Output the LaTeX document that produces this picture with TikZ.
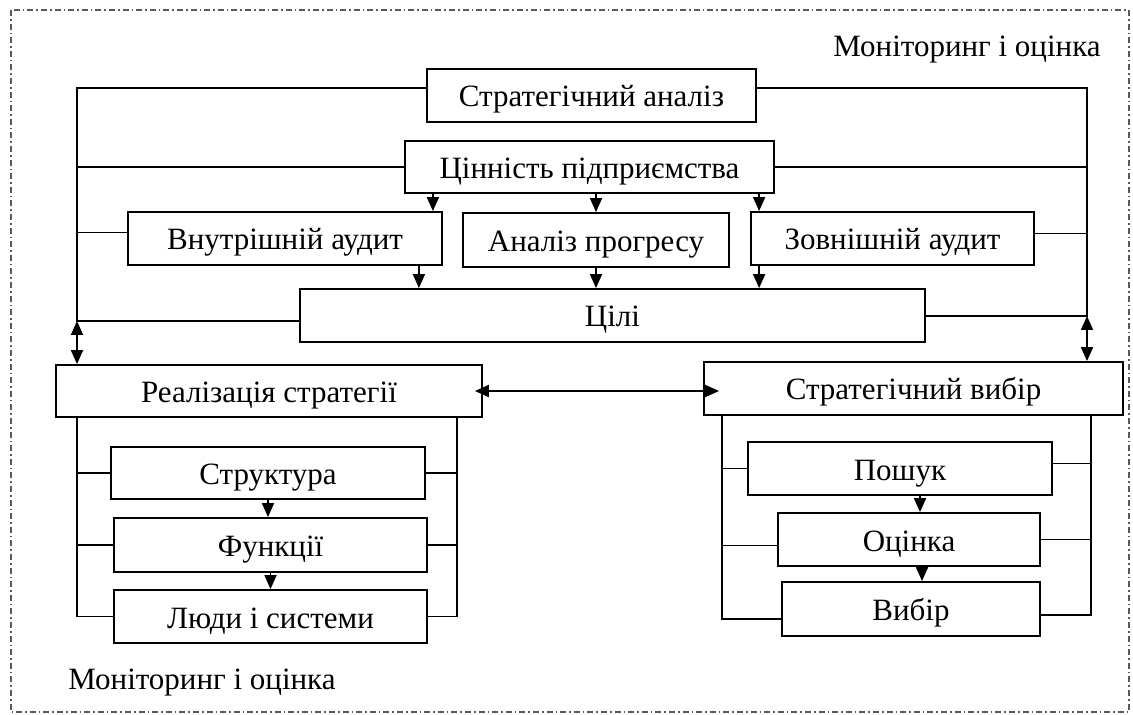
\documentclass[tikz,border=0pt]{standalone}
\usepackage{fontspec}
\setmainfont{Liberation Serif}
\usetikzlibrary{arrows.meta}
\def\pxUnit{0.5pt}
\tikzset{
  blk/.style 2 args={draw,line width=0.9pt,inner sep=0pt,
    text height=11.5pt,text depth=0pt,
    minimum width=#1*\pxUnit,minimum height=#2*\pxUnit},
  wire/.style={line width=0.9pt},
  dashframe/.style={line width=0.8pt,gray!70!black,
    dash pattern=on 3pt off 1.5pt on 0.8pt off 1.5pt},
  >={Triangle[width=6pt,length=7pt]}
}

\begin{document}
\begin{tikzpicture}[x=\pxUnit,y=-\pxUnit,font=\fontsize{15.5}{18}\selectfont]
    \useasboundingbox (0,0) rectangle (1133,715);
    \draw[dashframe] (11,10) rectangle (1129,712);

    \node (mon1) at (967,50) {Моніторинг і оцінка};
    \node (mon2) at (202,683) {Моніторинг і оцінка};

    \node[blk={329}{53}] (sa) at (591.5,95.5) {Стратегічний аналіз};
    \node[blk={369}{52}] (cp) at (589.5,167) {Цінність підприємства};
    \node[blk={314}{53}] (ia) at (285,238.5) {Внутрішній аудит};
    \node[blk={266}{54}] (ap) at (596,240) {Аналіз прогресу};
    \node[blk={283}{53}] (ea) at (892.5,238.5) {Зовнішній аудит};
    \node[blk={625}{53}] (goals) at (612.5,315.5) {Цілі};
    \node[blk={426}{52}] (impl) at (269,391) {Реалізація стратегії};
    \node[blk={419}{53}] (choice) at (913.5,388.5) {Стратегічний вибір};
    \node[blk={314}{52}] (struct) at (268,473) {Структура};
    \node[blk={313}{54}] (func) at (270.5,545) {Функції};
    \node[blk={313}{53}] (people) at (270.5,616.5) {Люди і системи};
    \node[blk={304}{53}] (search) at (900,468.5) {Пошук};
    \node[blk={262}{53}] (eval) at (909,539.5) {Оцінка};
    \node[blk={258}{54}] (pick) at (911,609) {Вибір};

    \coordinate (lt) at (77,88);
    \coordinate (lb) at (77,321);
    \coordinate (rt) at (1087,88);
    \coordinate (rb) at (1087,316);

    \draw[wire] (sa.west |- lt) -- (lt) -- (lb) -- (goals.west |- lb);
    \draw[wire] (cp.west) -- (cp.west -| lt);
    \draw[wire] ([yshift=3pt]ia.west) -- ([yshift=3pt]ia.west -| lt);
    \draw[wire] (sa.east |- rt) -- (rt) -- (rb) -- (goals.east |- rb);
    \draw[wire] (cp.east) -- (cp.east -| rt);
    \draw[wire] ([yshift=2.5pt]ea.east) -- ([yshift=2.5pt]ea.east -| rt);

    \draw[wire,<->] (lb) -- (impl.north -| lb);
    \draw[wire,<->] (rb) -- (choice.north -| rb);
    \draw[wire,<->,shorten <=-4pt,shorten >=-8pt] (impl.east) -- (impl.east -| choice.west);

    \coordinate (d1) at ([xshift=-5pt]ia.north east);
    \coordinate (d3) at ([xshift=4.5pt]ea.north west);
    \draw[wire,->] (d1 |- cp.south) -- (d1);
    \draw[wire,->] (cp.south -| ap.north) -- (ap.north);
    \draw[wire,->] (d3 |- cp.south) -- (d3);

    \coordinate (u1) at ([xshift=-12pt]ia.south east);
    \coordinate (u3) at ([xshift=4.5pt]ea.south west);
    \draw[wire,->] (u1) -- (u1 |- goals.north);
    \draw[wire,->] (ap.south) -- (ap.south |- goals.north);
    \draw[wire,->] (u3) -- (u3 |- goals.north);

    \coordinate (il) at ([xshift=11pt]impl.south west);
    \coordinate (ir) at ([xshift=-13pt]impl.south east);
    \draw[wire] (il) |- (people.west);
    \draw[wire] (il |- struct.west) -- (struct.west);
    \draw[wire] (il |- func.west) -- (func.west);
    \draw[wire] (ir) |- (people.east);
    \draw[wire] (ir |- struct.east) -- (struct.east);
    \draw[wire] (ir |- func.east) -- (func.east);
    \draw[wire,->] (struct.south) -- (struct.south |- func.north);
    \draw[wire,->] (func.south) -- (func.south |- people.north);

    \coordinate (cl) at ([xshift=9.5pt]choice.south west);
    \coordinate (cr) at ([xshift=-16.5pt]choice.south east);
    \draw[wire] (cl) |- ([yshift=-5pt]pick.west);
    \draw[wire] (cl |- search.west) -- (search.west);
    \draw[wire] ([yshift=-3pt]cl |- eval.west) -- ([yshift=-3pt]eval.west);
    \draw[wire] (cr) |- ([yshift=-3pt]pick.east);
    \draw[wire] ([yshift=2.5pt]cr |- search.east) -- ([yshift=2.5pt]search.east);
    \draw[wire] (cr |- eval.east) -- (eval.east);
    \draw[wire,->] ([xshift=10pt]search.south) -- ([xshift=10pt]search.south |- eval.north);
    \draw[wire,->] ([xshift=6.5pt]eval.south) -- ([xshift=6.5pt]eval.south |- pick.north);
\end{tikzpicture}
\end{document}
